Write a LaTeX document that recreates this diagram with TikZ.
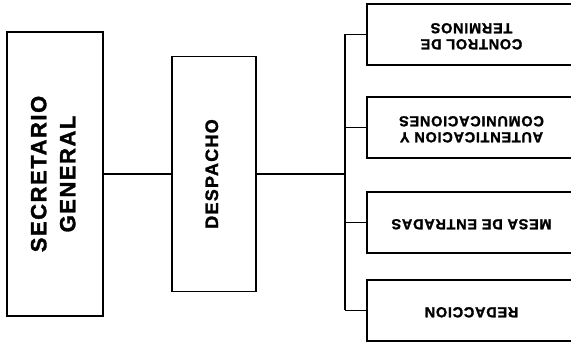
\documentclass[tikz,border=0pt]{standalone}
\usepackage{fontspec}
\usepackage{graphicx}
\setmainfont{Liberation Sans}
\newfontfamily\headfont{Liberation Sans}[LetterSpace=7, BoldFont={Liberation Sans Bold}, BoldFeatures={FakeBold=1.5}]
\newfontfamily\unitfont{Liberation Sans}[LetterSpace=5, BoldFont={Liberation Sans Bold}, BoldFeatures={FakeBold=1.5}]
\usetikzlibrary{positioning}

% text turned as on the scanned sheet
\newcommand{\turnup}[1]{\rotatebox[origin=c]{90}{\begin{tabular}{@{}c@{}}#1\end{tabular}}}
\newcommand{\turnover}[1]{\rotatebox[origin=c]{180}{\begin{tabular}{@{}c@{}}#1\end{tabular}}}

\begin{document}
\begin{tikzpicture}[
  x=1pt, y=-1pt,
  box/.style={rectangle, draw, line width=1.4pt, inner sep=0pt, outer sep=0pt},
  head/.style={box, font=\headfont\bfseries\fontsize{22}{29}\selectfont},
  unit/.style={box, minimum width=209pt, minimum height=61pt, font=\unitfont\bfseries\fontsize{14.5}{16}\selectfont},
  link/.style={line width=1.4pt}
]
  \useasboundingbox (0,0) rectangle (571,344);

  \node[head, minimum width=96pt, minimum height=284pt] (sg) at (55,174) {\turnup{SECRETARIO\\GENERAL}};
  \node[head, minimum width=84pt, minimum height=235pt, right=69pt of sg, font=\headfont\bfseries\fontsize{18}{20}\selectfont] (desp) {\turnup{DESPACHO}};

  \node[unit] (ctrl) at (471.5,34.5) {\turnover{CONTROL DE\\TERMINOS}};
  \node[unit, below=32pt of ctrl] (auten) {\turnover{AUTENTICACION Y\\COMUNICACIONES}};
  \node[unit, below=34pt of auten] (mesa) {\turnover{MESA DE ENTRADAS}};
  \node[unit, below=27pt of mesa] (redac) {\turnover{REDACCION}};

  \coordinate (bus) at (345,173);

  \draw[link] (sg) -- (desp);
  \draw[link] (desp) -- (desp -| bus);
  \draw[link] (bus |- ctrl) -- (bus |- redac);
  \foreach \n in {ctrl,auten,mesa,redac}
    \draw[link] (bus |- \n) -- (\n);
\end{tikzpicture}
\end{document}
